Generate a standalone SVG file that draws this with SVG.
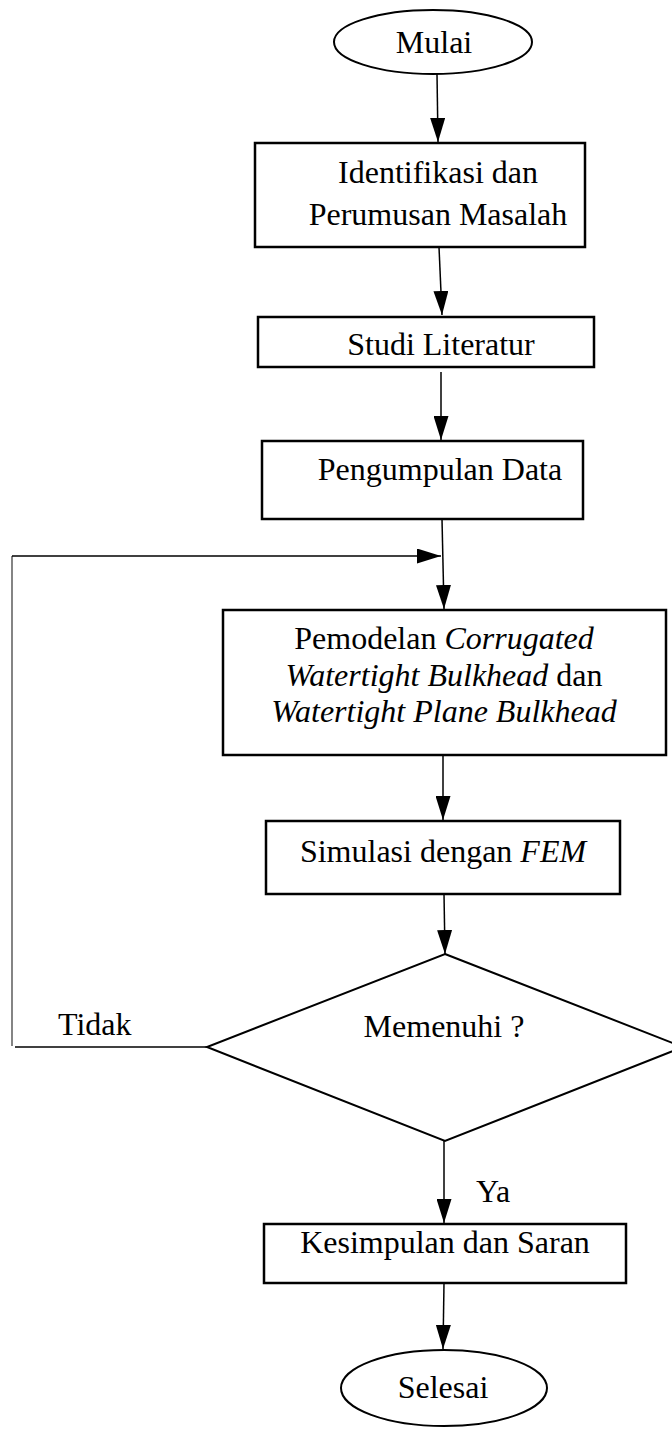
<svg xmlns="http://www.w3.org/2000/svg" width="672" height="1430" viewBox="0 0 672 1430">
  <style>
    .shape { fill: #ffffff; stroke: #000000; stroke-width: 2.5; }
    .term { fill: #ffffff; stroke: #000000; stroke-width: 2; }
    .label { font-family: "Liberation Serif", "Times New Roman", serif; font-size: 32px; fill: #000000; }
    .mid { text-anchor: middle; }
    .it { font-style: italic; }
    .flow { fill: none; stroke: #000000; stroke-width: 1.5; }
    .thin { fill: none; stroke: #333333; stroke-width: 1.2; }
  </style>
  <defs>
    <marker id="arrow" markerUnits="userSpaceOnUse" markerWidth="25" markerHeight="15" refX="24" refY="7.5" viewBox="0 0 25 15" orient="auto">
      <path d="M0,0 L24,7.5 L0,15 Z" fill="#000000"/>
    </marker>
  </defs>

  <rect width="672" height="1430" fill="#ffffff"/>

  <!-- connectors -->
  <g id="connectors">
    <line class="flow" x1="437" y1="74" x2="438" y2="142" marker-end="url(#arrow)"/>
    <line class="flow" x1="439" y1="247" x2="442" y2="315" marker-end="url(#arrow)"/>
    <line class="flow" x1="441" y1="372" x2="441" y2="440" stroke-width="2.2" marker-end="url(#arrow)"/>
    <line class="flow" x1="442" y1="519" x2="444" y2="609" marker-end="url(#arrow)"/>
    <line class="flow" x1="443" y1="755" x2="443" y2="820" marker-end="url(#arrow)"/>
    <line class="flow" x1="444" y1="894" x2="445" y2="954" marker-end="url(#arrow)"/>
    <line class="flow" x1="444" y1="1141" x2="444" y2="1223" marker-end="url(#arrow)"/>
    <line class="flow" x1="444" y1="1283" x2="443" y2="1349" marker-end="url(#arrow)"/>
    <!-- return path from the decision back to the modelling step -->
    <line class="flow" x1="207" y1="1047" x2="15" y2="1047" stroke-width="2"/>
    <line class="thin" x1="12" y1="1046" x2="12" y2="556"/>
    <line class="flow" x1="12" y1="556" x2="441" y2="556" stroke-width="1.2" marker-end="url(#arrow)"/>
  </g>

  <g id="start">
    <ellipse class="term" cx="433" cy="42" rx="99" ry="32"/>
    <text class="label mid" x="434" y="53" font-size="28">Mulai</text>
  </g>

  <g id="identifikasi">
    <rect class="shape" x="255" y="143" width="330" height="104"/>
    <text class="label mid" x="438" y="183">Identifikasi dan</text>
    <text class="label mid" x="438" y="225">Perumusan Masalah</text>
  </g>

  <g id="studi-literatur">
    <rect class="shape" x="258" y="317" width="336" height="50"/>
    <text class="label mid" x="441" y="355">Studi Literatur</text>
  </g>

  <g id="pengumpulan-data">
    <rect class="shape" x="262" y="441" width="321" height="78"/>
    <text class="label mid" x="440" y="480">Pengumpulan Data</text>
  </g>

  <g id="pemodelan">
    <rect class="shape" x="223" y="610" width="443" height="145"/>
    <text class="label mid" x="444" y="649">Pemodelan <tspan class="it">Corrugated</tspan></text>
    <text class="label mid" x="444" y="686"><tspan class="it">Watertight Bulkhead</tspan> dan</text>
    <text class="label mid it" x="444" y="722">Watertight Plane Bulkhead</text>
  </g>

  <g id="simulasi">
    <rect class="shape" x="266" y="821" width="354" height="73"/>
    <text class="label mid" x="443" y="862">Simulasi dengan <tspan class="it">FEM</tspan></text>
  </g>

  <g id="memenuhi">
    <polygon class="term" points="445,954 683,1047 445,1141 207,1047"/>
    <text class="label mid" x="444" y="1037">Memenuhi ?</text>
    <text class="label" x="58" y="1035" font-size="30">Tidak</text>
    <text class="label" x="476" y="1202" font-size="30">Ya</text>
  </g>

  <g id="kesimpulan">
    <rect class="shape" x="264" y="1224" width="362" height="59"/>
    <text class="label mid" x="445" y="1253" font-size="29">Kesimpulan dan Saran</text>
  </g>

  <g id="end">
    <ellipse class="term" cx="444" cy="1388" rx="103" ry="38"/>
    <text class="label mid" x="443" y="1398">Selesai</text>
  </g>
</svg>
